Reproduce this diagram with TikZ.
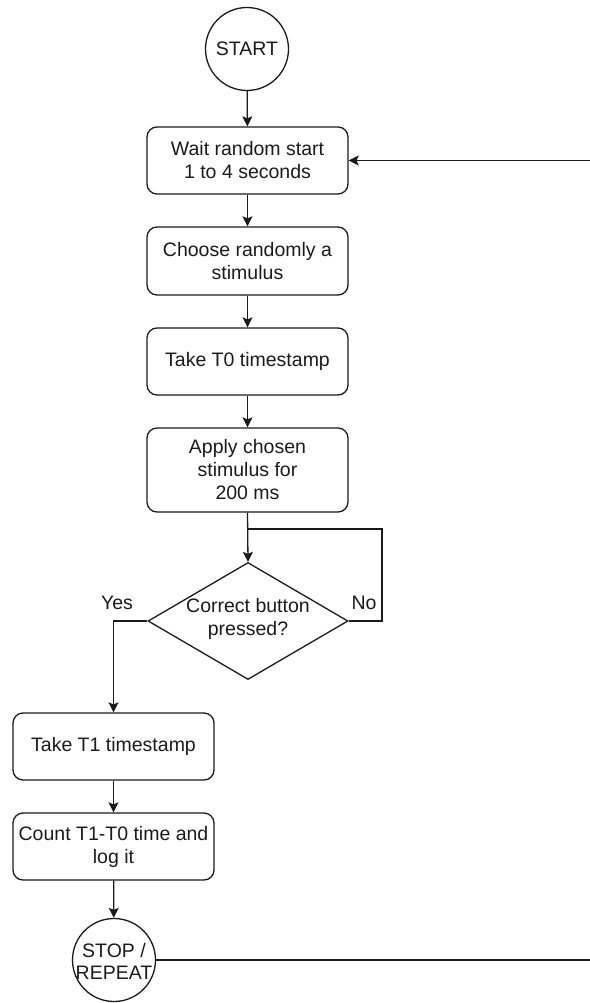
\documentclass[tikz,border=0pt]{standalone}
\usepackage{fontspec}
\setmainfont{Liberation Sans}
\usetikzlibrary{arrows.meta,shapes.geometric}
\definecolor{ink}{HTML}{1A1A1A}
\begin{document}
\begin{tikzpicture}[x=1pt,y=-1pt,
  every node/.style={font=\fontsize{19.5}{23}\selectfont, text=ink, inner sep=0pt},
  terminal/.style={draw=ink, line width=1.3pt, circle, minimum size=83pt},
  stepbox/.style={draw=ink, line width=1.3pt, rounded corners=10pt, minimum width=201pt, align=center},
  link/.style={draw=ink, line width=1.3pt},
  flow/.style={link, -{Stealth[length=10pt,width=10pt,inset=2pt]}}]
\useasboundingbox (0,0) rectangle (589,1003);

% process nodes
\node[terminal] (start) at (247,49) {START};
\node[stepbox, minimum height=67pt] (wait) at (247.5,160.5) {Wait random start\\1 to 4 seconds};
\node[stepbox, minimum height=68pt] (choose) at (247.5,261) {Choose randomly a\\stimulus};
\node[stepbox, minimum height=67pt] (tzero) at (247.5,361.5) {Take T0 timestamp};
\node[stepbox, minimum height=84pt] (apply) at (247.5,470) {Apply chosen\\stimulus for\\200 ms};
\node[draw=ink, line width=1.3pt, diamond, minimum width=200pt, minimum height=117pt, shape aspect=1.71] (press) at (248,621) {};
\node[align=center] (presstxt) at (248,619) {Correct button\\pressed?};
\node[stepbox, minimum height=67pt] (tone) at (113.5,746.5) {Take T1 timestamp};
\node[stepbox, minimum height=67pt] (count) at (113.5,846.5) {Count T1-T0 time and\\log it};
\node[terminal] (stop) at (114,960) {};
\node[align=center, font=\fontsize{19.5}{22}\selectfont] (stoptxt) at (114,961) {STOP /\\REPEAT};

% branch labels
\node (yes) at (117,603) {Yes};
\node (no) at (364,603) {No};

% helper points for the loops
\coordinate (join) at (248,529);
\coordinate (retx) at (591,0);
\coordinate (nox) at (382,0);

% connectors
\draw[flow] (start) -- (wait);
\draw[flow] (wait) -- (choose);
\draw[flow] (choose) -- (tzero);
\draw[flow] (tzero) -- (apply);
\draw[flow] (apply.south) -- (press.north);
\draw[link] (press.east) -- (press.east -| nox) |- (join);
\draw[flow] (press.west) -| (tone.north);
\draw[flow] (tone) -- (count);
\draw[flow] (count) -- (stop);
\draw[flow] (stop.east) -- (stop.east -| retx) |- (wait.east);
\end{tikzpicture}
\end{document}
